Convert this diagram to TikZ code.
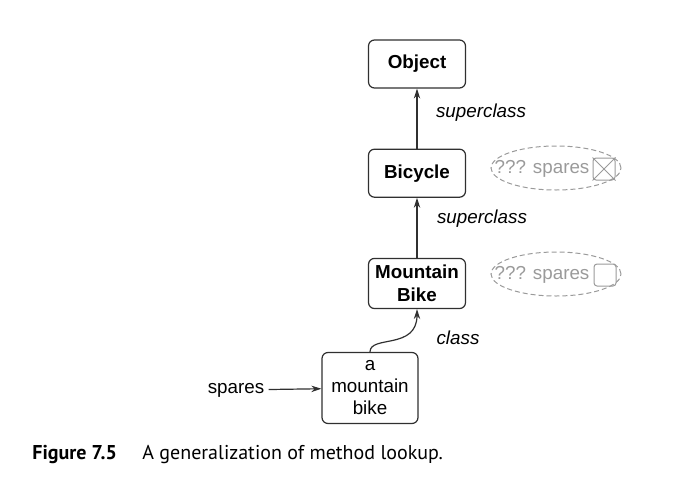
\documentclass[tikz,border=0pt]{standalone}
\usepackage{fontspec}
\setmainfont{Liberation Sans}
\newfontfamily\capfont{PT Sans}
\usetikzlibrary{arrows.meta, positioning, shapes.geometric}
\definecolor{linegray}{HTML}{303030}
\definecolor{ghostgray}{HTML}{9A9A9A}

\tikzstyle{cls} = [
    rectangle, rounded corners=3pt, minimum width=48.5pt, minimum height=24pt,
    align=center, draw=linegray, line width=0.6pt,
    font=\fontsize{9.4}{11}\selectfont\bfseries
]
\tikzstyle{inst} = [
    rectangle, rounded corners=3pt, minimum width=48pt, minimum height=35.5pt,
    align=center, draw=linegray, line width=0.6pt,
    font=\fontsize{9.4}{11}\selectfont
]
\tikzstyle{ghost} = [
    ellipse, draw=ghostgray, dashed, dash pattern=on 2.5pt off 1.5pt,
    line width=0.5pt, minimum width=65pt, minimum height=22pt
]
\tikzstyle{ghosttext} = [text=ghostgray, font=\fontsize{9.4}{11}\selectfont, inner sep=0pt]
\tikzstyle{slot} = [
    rectangle, rounded corners=1.5pt, draw=ghostgray, line width=0.5pt,
    minimum size=11pt, inner sep=0pt
]
\tikzstyle{lbl} = [font=\fontsize{9.4}{11}\selectfont\itshape, inner sep=0pt]
\tikzstyle{arrow} = [-{Stealth[length=5pt,width=3.2pt]}, line width=0.6pt, draw=linegray]
\tikzstyle{captext} = [font=\capfont\fontsize{10}{12}\selectfont, anchor=base west, inner sep=0pt]

\begin{document}
\begin{tikzpicture}[x=0.5pt, y=-0.5pt, node distance=30pt]
    \useasboundingbox (0,0) rectangle (699,476);

    % Classes
    \node[cls] (object) at (417,64) {Object};
    \node[cls, below=of object] (bicycle) {Bicycle};
    \node[cls, below=of bicycle] (mtb) {Mountain\\[0.5pt]Bike};

    % Instance
    \node[inst] (inst) at (370,388) {a\\mountain\\bike};
    \node[font=\fontsize{9.4}{11}\selectfont, inner sep=0pt] (spares) at (236,390) {spares};

    % Method dictionaries
    \node[ghost] (dict1) at (556,168) {};
    \node[ghosttext] (dict1txt) at (542,169) {??? spares};
    \node[slot] (dict1slot) at (604,169) {};
    \draw[ghostgray, line width=0.5pt] (dict1slot.north west) -- (dict1slot.south east)
        (dict1slot.north east) -- (dict1slot.south west);

    \node[ghost] (dict2) at (556,274) {};
    \node[ghosttext] (dict2txt) at (542,275) {??? spares};
    \node[slot] (dict2slot) at (605,275) {};

    % Links
    \draw[arrow] (bicycle) -- (object);
    \draw[arrow] (mtb) -- (bicycle);
    \draw[arrow] (inst.north) .. controls (370,335) and (417,350) .. (mtb.south);
    \draw[arrow, shorten <=2pt] (spares) -- (inst);

    % Link labels
    \node[lbl] (sup1) at (481,113) {superclass};
    \node[lbl] (sup2) at (482,219) {superclass};
    \node[lbl] (cl) at (458,338) {class};

    % Caption
    \node[captext] (capnum) at (32,459) {\bfseries Figure 7.5};
    \node[captext] (captxt) at (142,459) {A generalization of method lookup.};
\end{tikzpicture}
\end{document}
